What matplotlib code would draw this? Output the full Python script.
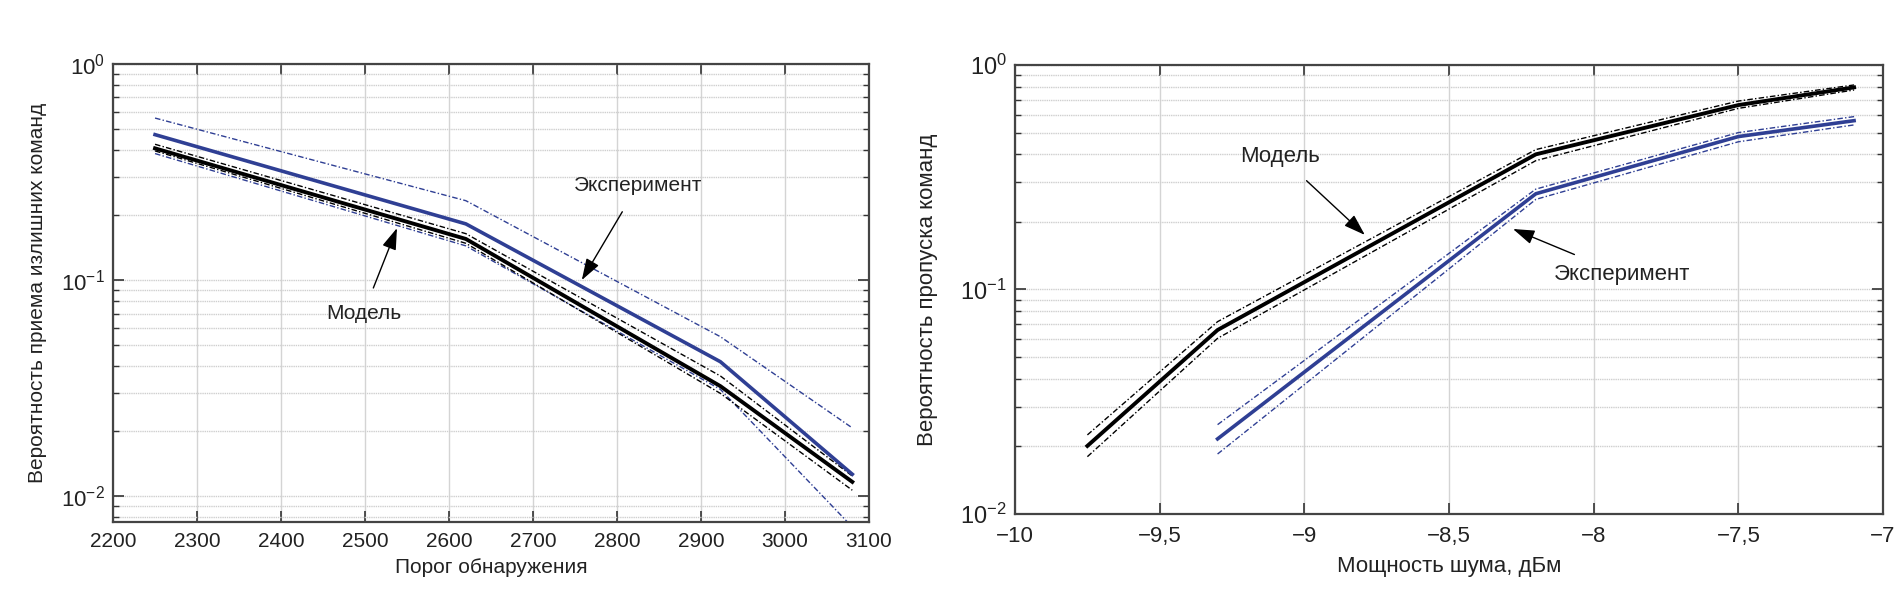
import matplotlib
matplotlib.use("Agg")
import matplotlib.pyplot as plt
from matplotlib.ticker import LogLocator, NullFormatter, FixedLocator

plt.rcParams['font.family'] = ['Liberation Sans', 'DejaVu Sans']
plt.rcParams['mathtext.fontset'] = 'custom'
plt.rcParams['mathtext.rm'] = 'Liberation Sans'
plt.rcParams['mathtext.it'] = 'Liberation Sans'
plt.rcParams['mathtext.default'] = 'regular'

# ---------------- data: left panel ----------------
thr = [2250, 2620, 2923, 3080]
left_model = [0.407, 0.155, 0.0323, 0.01165]
left_model_hi = [0.425, 0.164, 0.036, 0.0124]
left_model_lo = [0.396, 0.148, 0.0299, 0.01066]
left_exp = [0.471, 0.182, 0.0419, 0.01264]
left_exp_hi = [0.562, 0.233, 0.0547, 0.0207]
left_exp_lo = [0.385, 0.144, 0.0312, 0.0072]
left_xticks = [2200, 2300, 2400, 2500, 2600, 2700, 2800, 2900, 3000, 3100]

# ---------------- data: right panel ----------------
noise_model = [-9.75, -9.3, -8.2, -7.5, -7.1]
right_model = [0.0201, 0.066, 0.40, 0.663, 0.795]
right_model_hi = [0.0225, 0.0719, 0.42, 0.691, 0.815]
right_model_lo = [0.018, 0.0606, 0.375, 0.641, 0.774]
noise_exp = [-9.3, -8.2, -7.5, -7.1]
right_exp = [0.0216, 0.267, 0.48, 0.565]
right_exp_hi = [0.0250, 0.28, 0.50, 0.589]
right_exp_lo = [0.0185, 0.252, 0.455, 0.541]
right_xticks = [-10, -9.5, -9, -8.5, -8, -7.5, -7]
right_xticklabels = ['\u221210', '\u22129,5', '\u22129', '\u22128,5', '\u22128', '\u22127,5', '\u22127']

BLUE = '#2f3f94'
DD = (0, (4, 1.6, 1, 1.6))
FS = 15

fig = plt.figure(figsize=(19.03, 6.11), dpi=100)
ax1 = fig.add_axes([0.0594, 0.1457, 0.3973, 0.7496])
ax2 = fig.add_axes([0.5334, 0.1588, 0.4561, 0.7348])


def style(ax):
    ax.set_yscale('log')
    ax.yaxis.set_major_locator(LogLocator(base=10, numticks=10))
    ax.yaxis.set_minor_locator(LogLocator(base=10, subs=range(2, 10), numticks=10))
    ax.yaxis.set_minor_formatter(NullFormatter())
    ax.grid(True, which='major', axis='x', color='#d4d4d4', lw=1.0, ls='-')
    ax.grid(True, which='both', axis='y', color='#cfcfcf', lw=1.0, ls=(0, (1, 0.6)))
    ax.tick_params(which='both', direction='in', top=True, right=True,
                   labelsize=FS, colors='#333333', labelcolor='#222222')
    ax.tick_params(which='major', length=8, width=1.2)
    ax.tick_params(which='minor', length=4, width=1.0)
    ax.tick_params(axis='x', which='major', pad=7)
    ax.tick_params(axis='y', which='major', labelsize=16, pad=6)
    for s in ax.spines.values():
        s.set_color('#444444')
        s.set_linewidth(1.6)
    ax.set_axisbelow(True)


# ---------------- left panel ----------------
style(ax1)
ax1.plot(thr, left_exp_hi, color=BLUE, lw=1.0, ls=DD)
ax1.plot(thr, left_exp_lo, color=BLUE, lw=1.0, ls=DD)
ax1.plot(thr, left_model_hi, color='black', lw=1.0, ls=DD)
ax1.plot(thr, left_model_lo, color='black', lw=1.0, ls=DD)
ax1.plot(thr, left_exp, color=BLUE, lw=2.6)
ax1.plot(thr, left_model, color='black', lw=2.8)
ax1.set_xlim(2200, 3100)
ax1.set_ylim(0.0076, 1)
ax1.xaxis.set_major_locator(FixedLocator(left_xticks))
ax1.set_yticks([1e-2, 1e-1, 1e0])
ax1.set_yticklabels([r'$10^{-2}$', r'$10^{-1}$', r'$10^{0}$'])
ax1.set_xlabel('Порог обнаружения', fontsize=FS, color='#222222', labelpad=5)
ax1.set_ylabel('Вероятность приема излишних команд', fontsize=FS, color='#222222', labelpad=10)
ax1.annotate('Эксперимент', xy=(2758, 0.1), xytext=(2825, 0.275), fontsize=FS,
             ha='center', va='center', color='#222222',
             arrowprops=dict(arrowstyle='-|>,head_length=0.6,head_width=0.2', color='black', lw=1.0,
                             mutation_scale=22, shrinkA=12, shrinkB=0))
ax1.annotate('Модель', xy=(2538, 0.174), xytext=(2498, 0.0703), fontsize=FS,
             ha='center', va='center', color='#222222',
             arrowprops=dict(arrowstyle='-|>,head_length=0.6,head_width=0.2', color='black', lw=1.0,
                             mutation_scale=22, shrinkA=10, shrinkB=0))

# ---------------- right panel ----------------
style(ax2)
ax2.plot(noise_model, right_model_hi, color='black', lw=1.0, ls=DD)
ax2.plot(noise_model, right_model_lo, color='black', lw=1.0, ls=DD)
ax2.plot(noise_exp, right_exp_hi, color=BLUE, lw=1.0, ls=DD)
ax2.plot(noise_exp, right_exp_lo, color=BLUE, lw=1.0, ls=DD)
ax2.plot(noise_model, right_model, color='black', lw=2.8)
ax2.plot(noise_exp, right_exp, color=BLUE, lw=2.6)
ax2.set_xlim(-10, -7)
ax2.set_ylim(0.01, 1)
ax2.xaxis.set_major_locator(FixedLocator(right_xticks))
ax2.set_xticklabels(right_xticklabels)
ax2.tick_params(axis='x', which='major', labelsize=16, pad=9)
ax2.tick_params(axis='y', which='major', labelsize=17)
ax2.set_yticks([1e-2, 1e-1, 1e0])
ax2.set_yticklabels([r'$10^{-2}$', r'$10^{-1}$', r'$10^{0}$'])
ax2.set_xlabel('Мощность шума, дБм', fontsize=16, color='#222222', labelpad=6)
ax2.set_ylabel('Вероятность пропуска команд', fontsize=16, color='#222222', labelpad=16)
ax2.annotate('Модель', xy=(-8.791, 0.175), xytext=(-9.084, 0.393), fontsize=16,
             ha='center', va='center', color='#222222',
             arrowprops=dict(arrowstyle='-|>,head_length=0.6,head_width=0.2', color='black', lw=1.0,
                             mutation_scale=22, shrinkA=12, shrinkB=0))
ax2.annotate('Эксперимент', xy=(-8.279, 0.186), xytext=(-7.903, 0.117), fontsize=16,
             ha='center', va='center', color='#222222',
             arrowprops=dict(arrowstyle='-|>,head_length=0.6,head_width=0.2', color='black', lw=1.0,
                             mutation_scale=22, shrinkA=12, shrinkB=0))

fig.savefig('out.png', dpi=100, facecolor='white')
